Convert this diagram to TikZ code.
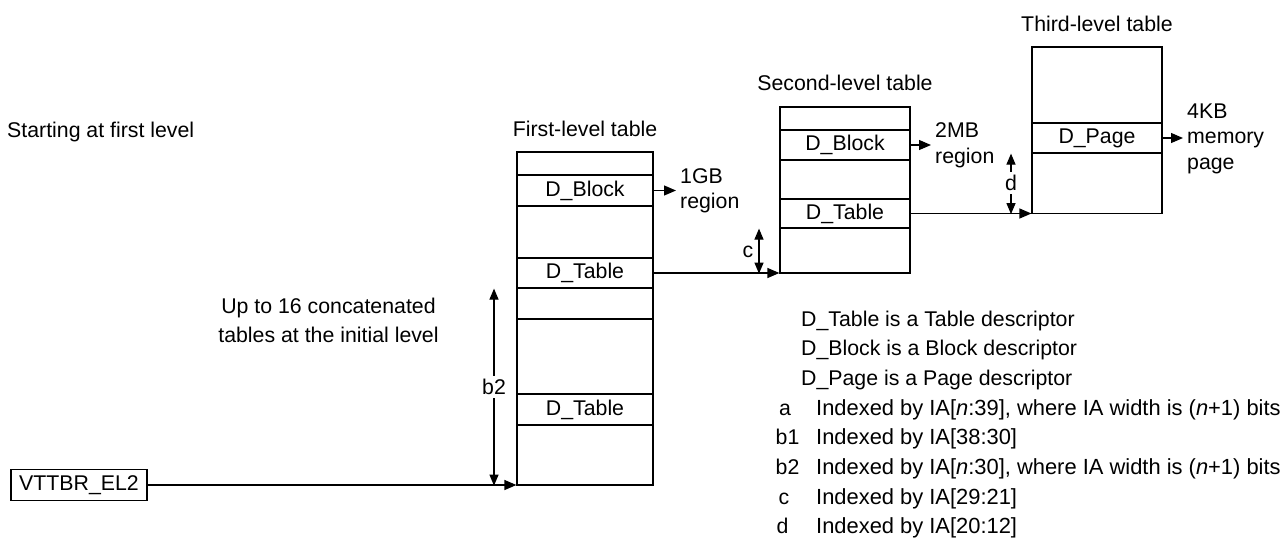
\documentclass[tikz,border=0pt]{standalone}
\usepackage{fontspec}
\setmainfont{Liberation Sans}
\usetikzlibrary{arrows.meta}
\begin{document}
\begin{tikzpicture}[x=1pt,y=-1pt,
  every node/.style={font=\fontsize{21.3}{25.5}\selectfont, inner sep=0pt},
  box/.style={draw, line width=1.2pt, inner sep=0pt},
  arr/.style={line width=1.2pt, -{Triangle[length=12pt,width=10pt]}},
  dim/.style={line width=1.2pt, {Triangle[length=11pt,width=9pt]}-{Triangle[length=11pt,width=9pt]}},
  txt/.style={anchor=base west},
  idx/.style={anchor=base west, font=\fontsize{21.9}{25.5}\selectfont},
  cut/.style={fill=white, inner xsep=1pt, inner ysep=3pt}]
\useasboundingbox (0,0) rectangle (1288,539);

% first-level table
\node[box, minimum width=136pt, minimum height=333pt] (t1) at (585,318.5) {};
\node[box, minimum width=136pt, minimum height=31pt] (t1blk) at (585,190.5) {D\_Block};
\node[box, minimum width=136pt, minimum height=30pt] (t1tab) at (585,273) {D\_Table};
\node[box, minimum width=136pt, minimum height=31pt] (t1emp) at (585,303.5) {};
\node[box, minimum width=136pt, minimum height=31pt] (t1tab2) at (585,409.5) {D\_Table};
\node[anchor=base] (t1title) at (585,136) {First-level table};

% second-level table
\node[box, minimum width=130pt, minimum height=166pt] (t2) at (845,190) {};
\node[box, minimum width=130pt, minimum height=30pt] (t2blk) at (845,145) {D\_Block};
\node[box, minimum width=130pt, minimum height=29pt] (t2tab) at (845,213.5) {D\_Table};
\node[anchor=base] (t2title) at (845,90) {Second-level table};

% third-level table
\node[box, minimum width=130pt, minimum height=166.5pt] (t3) at (1097,130.25) {};
\node[box, minimum width=130pt, minimum height=30pt] (t3pg) at (1097,138) {D\_Page};
\node[anchor=base] (t3title) at (1097,31) {Third-level table};

% register
\node[box, minimum width=136pt, minimum height=31pt] (vt) at (79,485) {VTTBR\_EL2};

% free texts
\node[txt] (start) at (7,137) {Starting at first level};
\node[align=center, font=\fontsize{21.3}{29}\selectfont] (upto) at (328.5,320) {Up to 16 concatenated\\tables at the initial level};
\node[align=left, anchor=west] (reg1) at (680,191) {1GB\\region};
\node[align=left, anchor=west] (reg2) at (935,145.5) {2MB\\region};
\node[align=left, anchor=west] (reg3) at (1187,138.5) {4KB\\memory\\page};

% connectors
\coordinate (e1) at (676,190.5);
\coordinate (e2) at (931,145);
\coordinate (e3) at (1183,138);
\draw[arr] (t1blk.east) -- (t1blk.east -| e1);
\draw[arr] (t2blk.east) -- (t2blk.east -| e2);
\draw[arr] (t3pg.east) -- (t3pg.east -| e3);
\draw[arr] (t1tab.east) -- (t1tab.east -| t2.west);
\draw[arr] (t2tab.east) -- (t2tab.east -| t3.west);
\draw[arr] (vt.east) -- (vt.east -| t1.west);

% dimension arrows
\coordinate (bx) at (494,0);
\coordinate (cx) at (759,0);
\coordinate (dx) at (1011,0);
\draw[dim] (t1tab.south -| bx) -- (t1.south -| bx);
\draw[dim] (t2tab.south -| cx) -- (t2.south -| cx);
\draw[dim] (t3pg.south -| dx) -- (t3.south -| dx);
\node[cut] (b2lab) at (494,387) {b2};
\node (clab) at (748,252) {c};
\node[cut] (dlab) at (1011,183) {d};

% legend
\node[txt] (L1) at (801,326) {D\_Table is a Table descriptor};
\node[txt] (L2) at (801,355.7) {D\_Block is a Block descriptor};
\node[txt] (L3) at (801,385.4) {D\_Page is a Page descriptor};
\node[txt] (La) at (779,415.1) {a};
\node[txt] (Lb1) at (775.5,444.8) {b1};
\node[txt] (Lb2) at (775.5,474.5) {b2};
\node[txt] (Lc) at (778.5,504.2) {c};
\node[txt] (Ld) at (776.5,533.9) {d};
\node[idx] (Ta) at (816,415.1) {Indexed by IA[\textit{n}:39], where IA width is (\textit{n}+1) bits};
\node[idx] (Tb1) at (816,444.8) {Indexed by IA[38:30]};
\node[idx] (Tb2) at (816,474.5) {Indexed by IA[\textit{n}:30], where IA width is (\textit{n}+1) bits};
\node[idx] (Tc) at (816,504.2) {Indexed by IA[29:21]};
\node[idx] (Td) at (816,533.9) {Indexed by IA[20:12]};
\end{tikzpicture}
\end{document}
